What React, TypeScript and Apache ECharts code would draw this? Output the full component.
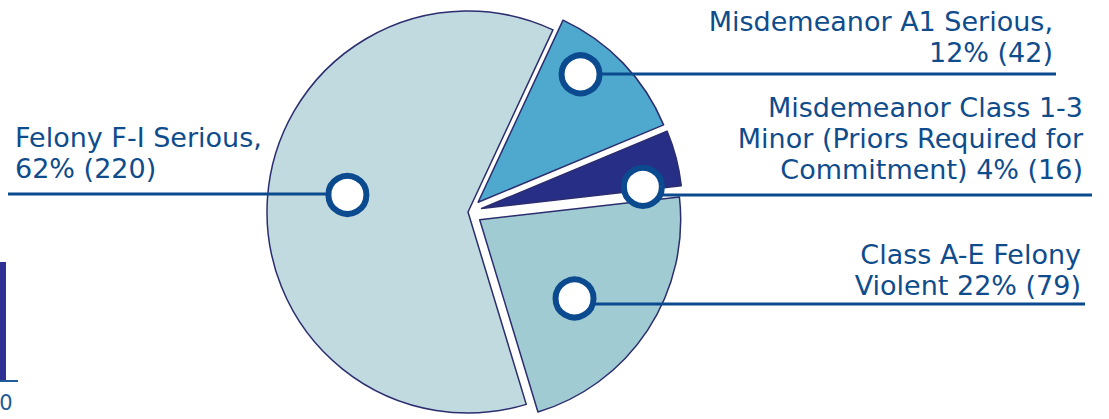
import React, { useEffect, useRef } from "react";
import * as echarts from "echarts";

// ---- data ----
const categories = [
  "Misdemeanor A1 Serious",
  "Misdemeanor Class 1-3 Minor (Priors Required for Commitment)",
  "Class A-E Felony Violent",
  "Felony F-I Serious",
];
const counts = [42, 16, 79, 220];
const labelPrefixes = [
  "Misdemeanor A1 Serious,\n",
  "Misdemeanor Class 1-3\nMinor (Priors Required for\nCommitment) ",
  "Class A-E Felony\nViolent ",
  "Felony F-I Serious,\n",
];
const sliceColors = ["#4FA8CE", "#262F85", "#A0CBD2", "#C0DAE0"];
const explodedSlices = [true, true, true, false];

// ---- layout ----
const CX = 468;
const CY = 212;
const R = 201;
const START_ANGLE = 65;
const TEXT_COLOR = "#0F4C8C";
const LINE_COLOR = "#0B4A8E";
// marker offsets relative to pie centre, in radius units; label line/text positions
const labelCfg = [
  { mdx: 0.56, mdy: -0.685, lineY: 74, lineEnd: 1056, textX: 1053, baseline: 62, side: "right" },
  { mdx: 0.87, mdy: -0.125, lineY: 195, lineEnd: 1092, textX: 1083, baseline: 179, side: "right" },
  { mdx: 0.53, mdy: 0.43, lineY: 304, lineEnd: 1085, textX: 1081, baseline: 295, side: "right" },
  { mdx: -0.6, mdy: -0.085, lineY: 194, lineEnd: 8, textX: 15, baseline: 178, side: "left" },
];

export default function App() {
  const ref = useRef<HTMLDivElement>(null);
  useEffect(() => {
    if (!ref.current) return;
    const chart = echarts.init(ref.current, undefined, { renderer: "svg" });
    const total = counts.reduce((a, b) => a + b, 0);
    const markers = labelCfg.map((c) => [CX + c.mdx * R, CY + c.mdy * R]);

    const option: any = {
      animation: false,
      series: [
        {
          type: "pie",
          center: [CX, CY],
          radius: R,
          startAngle: START_ANGLE,
          clockwise: true,
          selectedMode: "multiple",
          selectedOffset: 14,
          avoidLabelOverlap: false,
          emphasis: { disabled: true },
          itemStyle: { borderColor: "#2B2D6E", borderWidth: 1.5 },
          label: { show: false },
          labelLine: { show: false },
          data: categories.map((name, i) => ({
            name,
            value: counts[i],
            selected: explodedSlices[i],
            itemStyle: { color: sliceColors[i] },
          })),
        },
        {
          // label carrier: same slices, invisible, not exploded
          type: "pie",
          center: [CX, CY],
          radius: R,
          startAngle: START_ANGLE,
          clockwise: true,
          silent: true,
          z: 5,
          avoidLabelOverlap: false,
          emphasis: { disabled: true },
          itemStyle: { color: "rgba(0,0,0,0)", borderWidth: 0 },
          data: categories.map((name, i) => ({ name, value: counts[i] })),
          label: {
            show: true,
            position: "outside",
            formatter: (p: any) =>
              labelPrefixes[p.dataIndex] +
              Math.round((counts[p.dataIndex] / total) * 100) +
              "% (" +
              counts[p.dataIndex] +
              ")",
            color: TEXT_COLOR,
            fontFamily: "DejaVu Sans",
            fontSize: 27,
            lineHeight: 31,
          },
          labelLine: {
            show: true,
            smooth: false,
            lineStyle: { color: LINE_COLOR, width: 3 },
          },
          labelLayout: (p: any) => {
            const c = labelCfg[p.dataIndex];
            const m = markers[p.dataIndex];
            return {
              x: c.textX,
              y: c.baseline + 6,
              align: c.side === "right" ? "right" : "left",
              verticalAlign: "bottom",
              labelLinePoints: [
                [m[0], c.lineY],
                [m[0], c.lineY],
                [c.lineEnd, c.lineY],
              ],
            };
          },
        },
      ],
      graphic: [
        ...markers.map((m) => ({
          type: "circle",
          z: 100,
          shape: { cx: m[0], cy: m[1], r: 19 },
          style: { fill: "#FFFFFF", stroke: LINE_COLOR, lineWidth: 6 },
        })),
        // fragment of a neighbouring chart at the left edge
        {
          type: "rect",
          shape: { x: 0, y: 262, width: 6, height: 119 },
          style: { fill: "#2E3192" },
        },
        {
          type: "line",
          shape: { x1: 0, y1: 381, x2: 18, y2: 381 },
          style: { stroke: "#1F5C99", lineWidth: 2 },
        },
        {
          type: "text",
          x: 6,
          y: 413,
          style: {
            text: "0",
            fill: "#1F5C99",
            fontFamily: "DejaVu Sans",
            fontSize: 21,
            textAlign: "center",
            textVerticalAlign: "bottom",
          },
        },
      ],
    };
    chart.setOption(option);
    return () => chart.dispose();
  }, []);
  return (
    <div
      ref={ref}
      style={{ position: "fixed", left: 0, top: 0, width: 1109, height: 419, background: "#FFFFFF" }}
    />
  );
}
